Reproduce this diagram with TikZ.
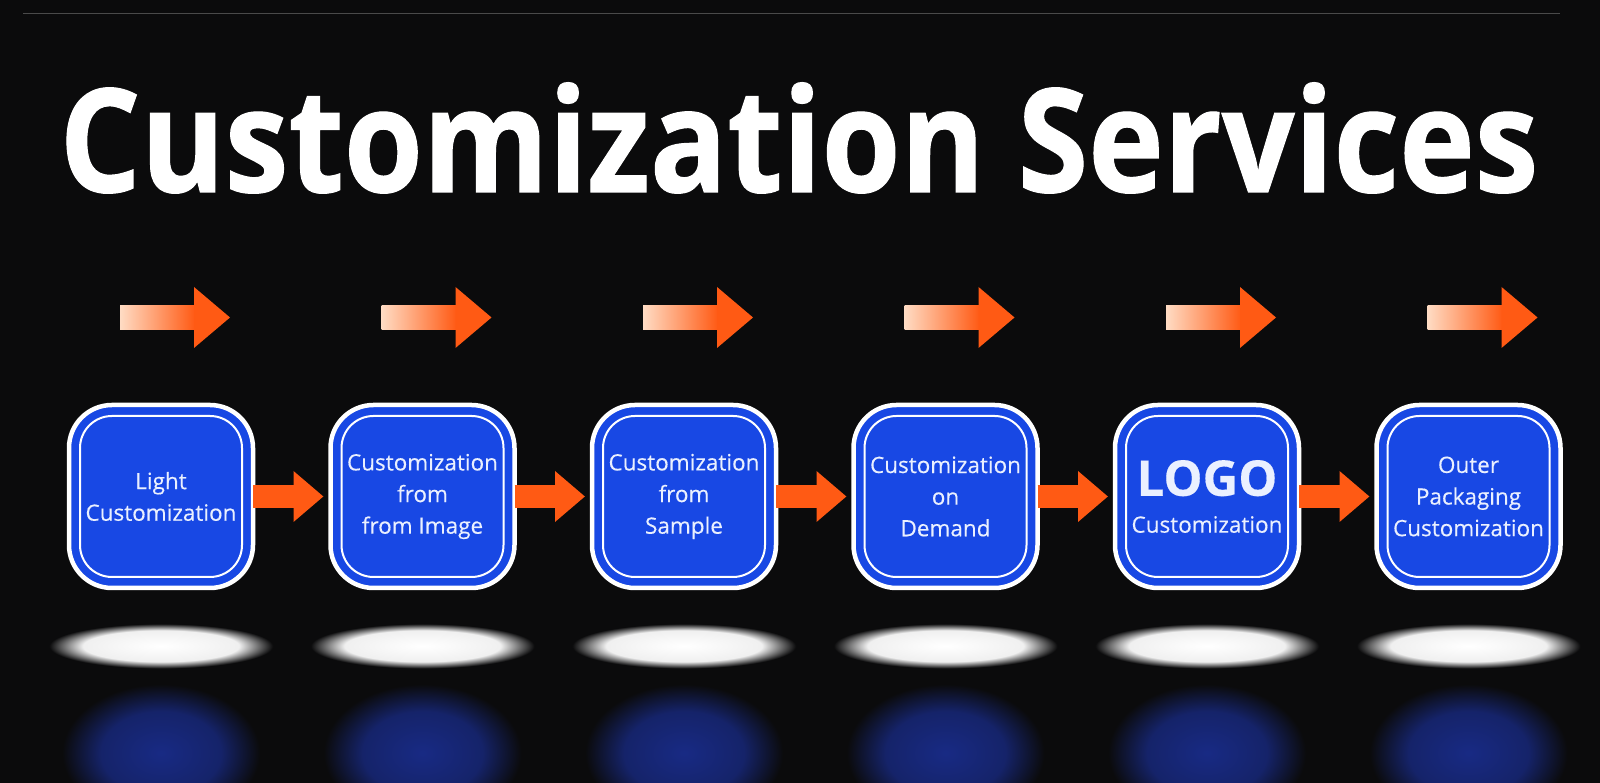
\documentclass[tikz,border=0pt]{standalone}
\usepackage{fontspec}
\setmainfont{Open Sans}
\newfontfamily\boxfont{Open Sans}[FakeBold=0.35]
\newfontfamily\titlefont{Open Sans}[BoldFeatures={FakeBold=0.8}]
\usepackage{tikz}
\usetikzlibrary{positioning,calc,arrows.meta}

\definecolor{bgdark}{HTML}{0B0B0C}
\definecolor{boxblue}{HTML}{1848E4}
\definecolor{boxtext}{HTML}{EAF0FF}
\definecolor{arroworange}{HTML}{FF5A14}
\definecolor{arrowpeach}{HTML}{FFDCC4}
\definecolor{rulegray}{HTML}{4A4A4A}
\definecolor{mirrorblue}{HTML}{182A84}

\pgfdeclareradialshading{spotglow}{\pgfpoint{0bp}{0bp}}{color(0bp)=(white); color(15bp)=(white!94!black); color(21.5bp)=(bgdark); color(50bp)=(bgdark)}
\pgfdeclareradialshading{mirrorglow}{\pgfpoint{0bp}{0bp}}{color(0bp)=(mirrorblue); color(13bp)=(mirrorblue!78!bgdark); color(21.5bp)=(bgdark); color(50bp)=(bgdark)}

\begin{document}
\begin{tikzpicture}[
servicebox/.style={rectangle, rounded corners=0.43cm, draw=white, line width=0.045cm, fill=boxblue, minimum width=1.84cm, minimum height=1.83cm, outer sep=0pt, inner sep=0pt, text=boxtext, align=center, font=\boxfont\fontsize{6.4}{9}\selectfont},
flowarrow/.style={draw=arroworange, line width=0.23cm, -{Triangle[length=0.3cm, width=0.49cm]}, shorten >=0.07cm},
node distance=0.775cm
]
%Background
\useasboundingbox (0,0) rectangle (16,7.83);
\fill[bgdark] (0,0) rectangle (16,7.83);
\draw[rulegray, line width=0.01cm] (0.23,7.69) -- (15.6,7.69);

%Title
\node[text=white, anchor=base, inner sep=0pt] (title) at (7.99,5.91) {\resizebox{14.79cm}{\height}{\titlefont\fontsize{41}{44}\selectfont\bfseries Customization Services}};

%Nodes
\node[servicebox] (light)                        at (1.61,2.865) {Light\\Customization};
\node[servicebox] (image)     [right=of light]   {Customization\\from\\from Image};
\node[servicebox] (sample)    [right=of image]   {Customization\\from\\Sample};
\node[servicebox] (demand)    [right=of sample]  {Customization\\on\\Demand};
\node[servicebox] (logo)      [right=of demand]  {{\fontsize{14}{15}\selectfont\bfseries LOGO}\\[1.5pt]Customization};
\node[servicebox] (packaging) [right=of logo]    {Outer\\Packaging\\Customization};

%Inner rims, glows and mirror images
\foreach \b in {light,image,sample,demand,logo,packaging}{
  \draw[white, line width=0.02cm, rounded corners=0.32cm] ($(\b.south west)+(0.11,0.11)$) rectangle ($(\b.north east)-(0.11,0.11)$);
  \shade[shading=spotglow] ($(\b.south)+(-1.3,-0.84)$) rectangle ($(\b.south)+(1.3,-0.32)$);
  \shade[shading=mirrorglow] ($(\b.south)+(-1.15,-2.45)$) rectangle ($(\b.south)+(1.15,-0.85)$);
  % arrow above
  \shade[left color=arrowpeach, right color=arroworange] ($(\b.north)+(-0.41,0.755)$) rectangle ($(\b.north)+(0.34,0.995)$);
  \fill[arroworange] ($(\b.north)+(0.33,0.57)$) -- ($(\b.north)+(0.69,0.875)$) -- ($(\b.north)+(0.33,1.18)$) -- cycle;
}

%Lines
\draw[flowarrow] (light.east) -- (image.west);
\draw[flowarrow] (image.east) -- (sample.west);
\draw[flowarrow] (sample.east) -- (demand.west);
\draw[flowarrow] (demand.east) -- (logo.west);
\draw[flowarrow] (logo.east) -- (packaging.west);
\end{tikzpicture}
\end{document}
